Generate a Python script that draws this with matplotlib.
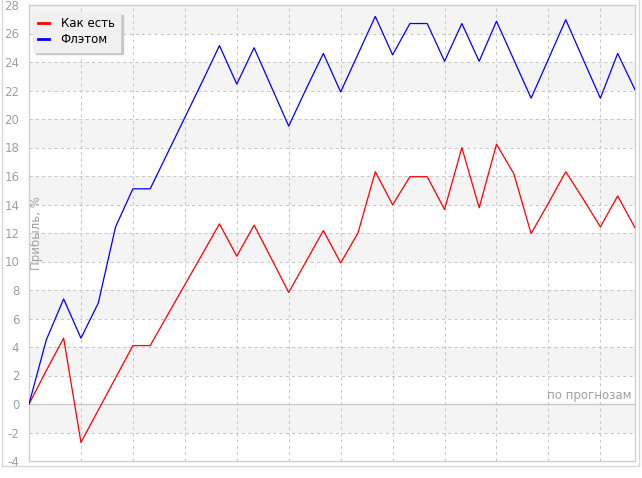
"""Profit curves: 'Как есть' vs 'Флэтом'."""

import matplotlib.pyplot as plt
from matplotlib.patches import Rectangle

plt.rcParams["axes.unicode_minus"] = False

W, H = 642, 478

# profit, % at each forecast step
steps = list(range(36))
as_is = [0, 2.35, 4.62, -2.7, -0.43, 1.83, 4.1, 4.1, 6.24, 8.37, 10.5, 12.64,
         10.37, 12.55, 10.2, 7.83, 10.0, 12.17, 9.9, 12.0, 16.3, 13.98, 15.95,
         15.95, 13.65, 17.99, 13.77, 18.23, 16.16, 11.96, 14.1, 16.3, 14.4,
         12.43, 14.6, 12.36]
flat = [0, 4.5, 7.37, 4.62, 7.08, 12.43, 15.1, 15.1, 17.6, 20.1, 22.6, 25.15,
        22.45, 25.0, 22.25, 19.5, 22.1, 24.6, 21.9, 24.55, 27.2, 24.5, 26.7,
        26.7, 24.05, 26.7, 24.05, 26.86, 24.16, 21.46, 24.2, 26.97, 24.2,
        21.46, 24.6, 22.05]
y_ticks = list(range(-4, 29, 2))
x_grid = list(range(3, 35, 3))

GREY_TXT = "#a0a0a0"
GRID = "#c8c8c8"
BAND = "#f4f4f4"

fig = plt.figure(figsize=(W / 100, H / 100), dpi=100)
fig.patch.set_facecolor("white")

# outer frame of the widget
fig.patches.append(Rectangle((2 / W, 1 - 466 / H), 637 / W, 466 / H + 0.05,
                             transform=fig.transFigure, fill=False,
                             edgecolor="#d8d8d8", linewidth=1.0, zorder=0))

ax = fig.add_axes([29 / W, 1 - 461 / H, 606 / W, 456 / H])
ax.set_xlim(0, 35)
ax.set_ylim(-4, 28)

# alternating bands
for lo in range(-2, 28, 4):
    ax.axhspan(lo, lo + 2, color=BAND, lw=0, zorder=0)

for y in y_ticks[1:-1]:
    if y == 0:
        ax.axhline(0, color=GRID, lw=1.0, zorder=1)
    else:
        ax.axhline(y, color=GRID, lw=0.75, ls=(0, (3, 3)), zorder=1)
for x in x_grid:
    ax.axvline(x, color=GRID, lw=0.75, ls=(0, (3, 3)), zorder=1)

ax.plot(steps, as_is, color="#ff0000", lw=0.9, label="Как есть", zorder=3)
ax.plot(steps, flat, color="#0000ff", lw=0.9, label="Флэтом", zorder=3)

ax.set_yticks(y_ticks)
ax.set_xticks([])
ax.tick_params(axis="y", length=0, pad=7, labelsize=8.5, labelcolor=GREY_TXT)
for s in ax.spines.values():
    s.set_color("#d0d0d0")
    s.set_linewidth(1.0)

ax.set_ylabel("Прибыль, %", color=GREY_TXT, fontsize=8.5)
ax.yaxis.set_label_coords(0.0225, 0.5)

ax.text(0.995, 0.63, "по прогнозам", transform=ax.get_yaxis_transform(),
        ha="right", va="center", fontsize=8.5, color=GREY_TXT)

leg = ax.legend(loc="upper left", bbox_to_anchor=(4 / 606, 1 - 7 / 456),
                fontsize=8.5, frameon=True, fancybox=False,
                shadow={"color": "#c8c8c8", "alpha": 1.0},
                handlelength=0.9, handletextpad=1.0, borderpad=0.45,
                labelspacing=0.25, borderaxespad=0)
leg.get_frame().set_facecolor("#f0f0f0")
leg.get_frame().set_edgecolor("#f0f0f0")
leg.get_frame().set_alpha(1.0)
for line in leg.get_lines():
    line.set_linewidth(2.0)

fig.savefig("out.png", dpi=100)
